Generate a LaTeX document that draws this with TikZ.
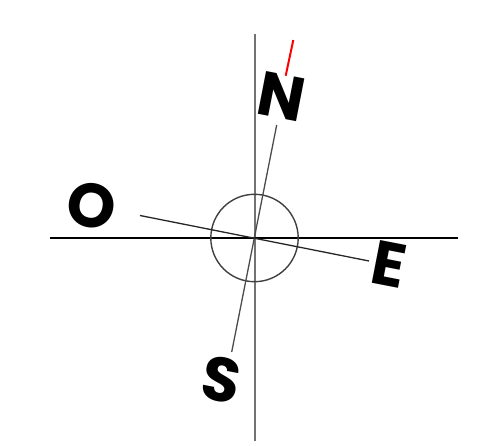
\documentclass[tikz,border=0pt]{standalone}
\usepackage{fontspec}
\setmainfont{Poppins}[BoldFont={* Bold}]
\begin{document}
\begin{tikzpicture}[x=1pt,y=-1pt,
  letter/.style={font=\fontsize{62}{62}\selectfont\bfseries, inner sep=0pt, rotate=-11},
  axisv/.style={draw=black!55, line width=2pt},
  axish/.style={draw=black, line width=1.4pt},
  tilt/.style={draw=black!70, line width=1.3pt},
  ring/.style={draw=black!75, line width=1.4pt}]
\useasboundingbox (0,0) rectangle (495,446);
\coordinate (c) at (254.5,238);
\coordinate (vt) at (254.5,34);
\coordinate (vb) at (254.5,441);
\coordinate (hl) at (50,238);
\coordinate (hr) at (458,238);
\coordinate (ns1) at (276.7,125);
\coordinate (ns2) at (231.7,352);
\coordinate (eo1) at (140,215.5);
\coordinate (eo2) at (369,261);
\coordinate (r1) at (293.3,40);
\coordinate (r2) at (285.7,75.7);
\draw[axisv] (vt) -- (vb);
\draw[axish] (hl) -- (hr);
\draw[ring] (c) circle[radius=43.7];
\draw[tilt] (ns1) -- (ns2);
\draw[tilt, draw=black!85] (eo1) -- (eo2);
\draw[red, line width=2pt] (r1) -- (r2);
\node[letter] (N) at (282,97) {N};
\node[letter] (O) at (91.5,206) {O};
\node[letter] (E) at (389,264) {E};
\node[letter] (S) at (221,380) {S};
\end{tikzpicture}
\end{document}
